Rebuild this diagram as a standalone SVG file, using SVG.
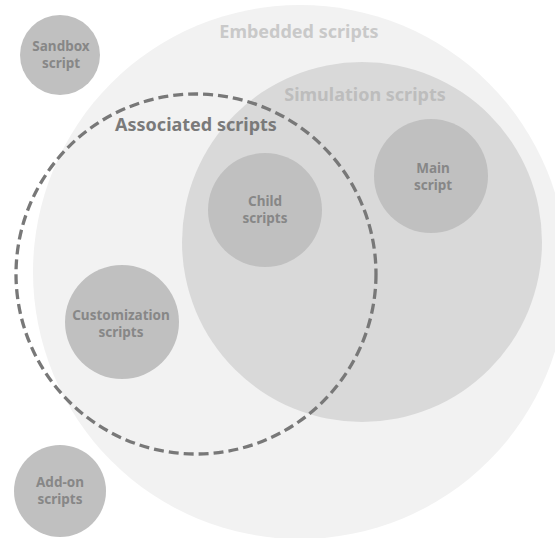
<svg xmlns="http://www.w3.org/2000/svg" width="555" height="538" viewBox="0 0 555 538">
  <style>
    .node { fill: #c0c0c0; }
    .lbl { font-family: "Noto Sans", "Open Sans", sans-serif; font-weight: bold; font-size: 13.5px; fill: #878787; text-anchor: middle; }
    .title { font-family: "Noto Sans", "Open Sans", sans-serif; font-weight: bold; font-size: 18px; text-anchor: middle; }
  </style>
  <rect width="555" height="538" fill="#ffffff"/>

  <!-- outer set: every embedded script -->
  <g id="embedded">
    <circle cx="300" cy="272" r="267" fill="#f2f2f2"/>
    <text class="title" x="299" y="38" fill="#c9c9c9">Embedded scripts</text>
  </g>

  <g id="simulation">
    <circle cx="362" cy="242" r="180" fill="#d9d9d9"/>
    <text class="title" x="365" y="101" fill="#bdbdbd">Simulation scripts</text>
  </g>

  <g id="sandbox">
    <circle class="node" cx="60" cy="55" r="40"/>
    <text class="lbl" x="61" y="51">Sandbox</text>
    <text class="lbl" x="61" y="68">script</text>
  </g>

  <g id="main">
    <circle class="node" cx="431" cy="176" r="57"/>
    <text class="lbl" x="433" y="173">Main</text>
    <text class="lbl" x="433" y="190">script</text>
  </g>

  <g id="child">
    <circle class="node" cx="265" cy="210" r="57"/>
    <text class="lbl" x="265" y="206">Child</text>
    <text class="lbl" x="265" y="223">scripts</text>
  </g>

  <g id="customization">
    <circle class="node" cx="122" cy="322" r="57"/>
    <text class="lbl" x="121" y="320">Customization</text>
    <text class="lbl" x="121" y="337">scripts</text>
  </g>

  <g id="addon">
    <circle class="node" cx="60" cy="491" r="46"/>
    <text class="lbl" x="60" y="487">Add-on</text>
    <text class="lbl" x="60" y="504">scripts</text>
  </g>

  <!-- dashed outline: scripts associated with scene objects -->
  <g id="associated">
    <circle cx="196" cy="274" r="180" fill="none" stroke="#787878" stroke-width="3.3" stroke-dasharray="10 5"/>
    <text class="title" x="196" y="131" fill="#7a7a7a">Associated scripts</text>
  </g>
</svg>
